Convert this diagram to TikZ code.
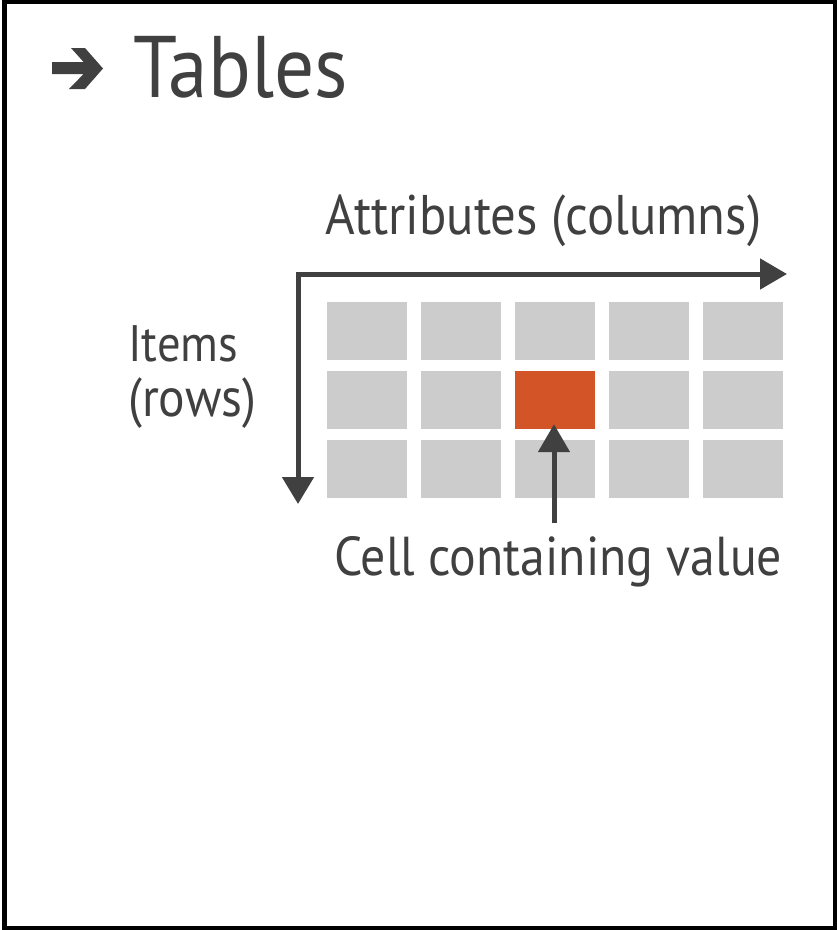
\documentclass[tikz,border=0pt]{standalone}
\usepackage{graphicx}
\usepackage{fontspec}
\setmainfont{PT Sans}
\usetikzlibrary{arrows.meta}
\definecolor{ink}{RGB}{64,64,64}
\definecolor{cellgray}{RGB}{204,204,204}
\definecolor{hilite}{RGB}{211,84,39}
\newcommand{\fitw}[2]{\scalebox{1}[1.1]{\resizebox{#1pt}{!}{#2}}}
\begin{document}
\begin{tikzpicture}[x=1pt,y=-1pt,
  lbl/.style={inner sep=0pt, anchor=base west, text=ink, font=\fontsize{50}{60}\selectfont},
  cell/.style={fill=cellgray, minimum width=80pt, minimum height=58pt, inner sep=0pt, draw=none},
  hot/.style={cell, fill=hilite},
  axis/.style={draw=ink, line width=5pt, line join=miter}]
\useasboundingbox (0,0) rectangle (837,930);
\draw[line width=4.5pt] (4.6,2) rectangle (835.5,928);
% title arrow
\fill[ink] (52,62) -- (83.6,62) -- (71,48) -- (85,48) -- (103,68.5) -- (85,89) -- (69,89) -- (83.6,74) -- (52,74) -- cycle;
\node[lbl] (title) at (133,97) {\fitw{215}{Tables}};
\node[lbl] (attr) at (325,234) {\fitw{436}{Attributes (columns)}};
\node[lbl] (items) at (128,361) {\fitw{110}{Items}};
\node[lbl] (rows) at (128,416) {\fitw{128}{(rows)}};
\node[lbl] (cellv) at (334,575) {\fitw{448}{Cell containing value}};
% grid
\foreach \i in {1,2,3}{
  \foreach \j in {1,...,5}{
    \node[cell] (c\i\j) at ({367+94*(\j-1)},{331+69*(\i-1)}) {};
  }
}
\node[hot] (c23) at (555,400) {};
% axes
\coordinate (corner) at (298,274);
\coordinate (htip) at (787,274);
\coordinate (vtip) at (298,504);
\draw[axis,{Triangle[length=27pt,width=31pt]}-{Triangle[length=27pt,width=30pt]}] (vtip) -- (corner) -- (htip);
\coordinate (cellfoot) at (554,523);
\draw[axis,-{Triangle[length=28pt,width=31pt]}] (cellfoot) -- ([xshift=-1pt,yshift=5pt]c23.south);
\end{tikzpicture}
\end{document}
